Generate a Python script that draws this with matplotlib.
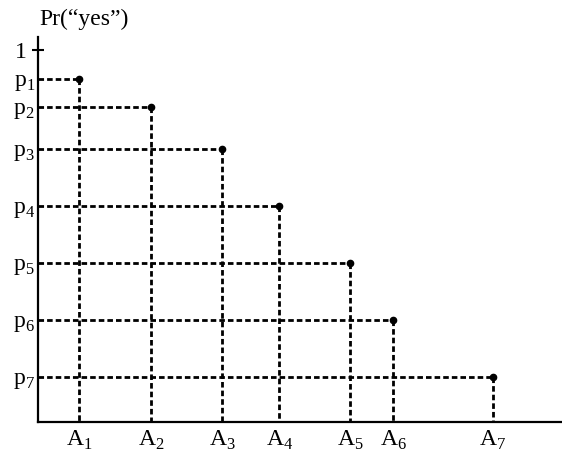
import matplotlib.pyplot as plt

plt.rcParams['font.family'] = ['Liberation Serif', 'DejaVu Serif']
plt.rcParams['mathtext.fontset'] = 'custom'
plt.rcParams['mathtext.rm'] = 'Liberation Serif'

# alternatives A1..A7 on the x axis, Pr("yes") for each
alt_labels = ['A$_%d$' % i for i in range(1, 8)]
alt_x = [0.79, 2.17, 3.52, 4.61, 5.96, 6.78, 8.68]
p_labels = ['p$_%d$' % i for i in range(1, 8)]
p_yes = [0.922, 0.847, 0.733, 0.581, 0.427, 0.273, 0.121]

fig = plt.figure(figsize=(5.62, 4.54), dpi=100)
ax = fig.add_axes([0.067, 0.0705, 0.933, 0.848])

dash = (0, (2.0, 1.1))
for x, p in zip(alt_x, p_yes):
    ax.plot([0, x], [p, p], color='black', lw=2, linestyle=dash)
    ax.plot([x, x], [p, 0], color='black', lw=2, linestyle=dash)
ax.plot(alt_x, p_yes, 'o', color='black', ms=4.5)

ax.set_xlim(0, 10)
ax.set_ylim(0, 1.035)
for s in ['top', 'right']:
    ax.spines[s].set_visible(False)
for s in ['left', 'bottom']:
    ax.spines[s].set_linewidth(1.6)

ax.set_xticks(alt_x)
ax.set_xticklabels(alt_labels, fontsize=17)
ax.tick_params(axis='x', length=0, pad=5)

ax.set_yticks([1])
ax.set_yticklabels(['1'], fontsize=17)
ax.tick_params(axis='y', which='major', direction='inout', length=8, width=1.5, pad=4)
ax.set_yticks(p_yes, minor=True)
ax.set_yticklabels(p_labels, minor=True, fontsize=17)
ax.tick_params(axis='y', which='minor', length=0, pad=2)

fig.text(39 / 562, 1 - 25 / 454, 'Pr(\u201cyes\u201d)', fontsize=17, va='baseline')

fig.savefig('out.png', dpi=100)
